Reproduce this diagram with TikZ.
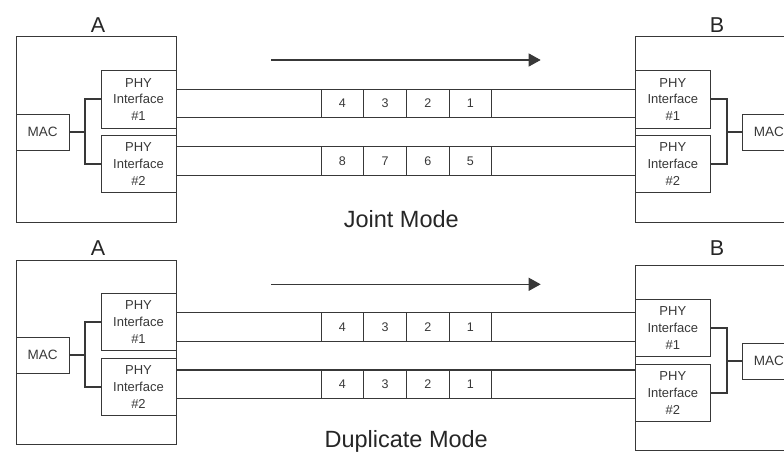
\documentclass[tikz,border=0pt]{standalone}
\usepackage{fontspec}
\setmainfont{Liberation Sans}
\usetikzlibrary{arrows.meta}
\definecolor{lc}{HTML}{383838}
\begin{document}
\begin{tikzpicture}[x=1pt,y=-1pt,
  box/.style={draw=lc, line width=1pt, inner sep=0pt, outer sep=0pt, anchor=north west},
  unit/.style={box, minimum width=160pt, minimum height=185.3pt},
  phy/.style={box, minimum width=75pt, minimum height=57.3pt, align=center, text=lc, font=\fontsize{13}{16.7}\selectfont},
  mac/.style={box, minimum width=53.3pt, minimum height=36pt, text=lc, font=\fontsize{13.5}{16}\selectfont},
  cell/.style={draw=lc, line width=1pt, minimum width=42.7pt, minimum height=28.4pt, inner sep=0pt, outer sep=0pt, text=lc, font=\fontsize{12.5}{14}\selectfont},
  wire/.style={draw=lc, line width=1.1pt},
  bus/.style={draw=lc, line width=1.8pt},
  flow/.style={draw=lc, line width=1.1pt, -{Triangle[length=12pt,width=13pt]}},
  title/.style={anchor=base, text=black!85, font=\fontsize{21.5}{24}\selectfont},
  mode/.style={anchor=base, text=black!85, font=\fontsize{23.5}{26}\selectfont}]
\useasboundingbox (0,0) rectangle (784,453);
\clip (0,0) rectangle (784,453);

% ================= Joint Mode =================
\node[title] (tA) at (98,32.3) {A};
\node[title] (tB) at (717,32.3) {B};
\node[unit] (JA) at (16,36.7) {};
\node[unit] (JB) at (635.3,36.7) {};
\node[phy] (JAP1) at (101,70.7) {PHY\\Interface\\\#1};
\node[phy] (JAP2) at (101,135.3) {PHY\\Interface\\\#2};
\node[mac] (JAM) at (16,114.3) {MAC};
\node[phy] (JBP1) at (635.3,70.7) {PHY\\Interface\\\#1};
\node[phy] (JBP2) at (635.3,135.3) {PHY\\Interface\\\#2};
\node[mac] (JBM) at (742.3,114.3) {MAC};

\coordinate (ja) at (85,132.3);
\coordinate (jb) at (726.7,132.3);
\draw[bus] (JAM.east) -- (ja);
\draw[bus] (JAP1.west) -| (ja) |- (JAP2.west);
\draw[bus] (JBM.west) -- (jb);
\draw[bus] (JBP1.east) -| (jb) |- (JBP2.east);

\coordinate (j1) at (0,89.3);
\coordinate (j2) at (0,117.7);
\coordinate (j3) at (0,146.7);
\coordinate (j4) at (0,175.3);
\draw[wire] (JAP1.east |- j1) -- (JBP1.west |- j1);
\draw[wire] (JAP1.east |- j2) -- (JBP1.west |- j2);
\draw[wire] (JAP2.east |- j3) -- (JBP2.west |- j3);
\draw[wire] (JAP2.east |- j4) -- (JBP2.west |- j4);

\foreach \t [count=\i] in {4,3,2,1}
  \node[cell] (jr\i) at ({299.65+42.7*\i},103.5) {\t};
\foreach \t [count=\i] in {8,7,6,5}
  \node[cell] (js\i) at ({299.65+42.7*\i},161) {\t};

\coordinate (jf0) at (271,60);
\coordinate (jf1) at (540.7,60);
\draw[flow] (jf0) -- (jf1);
\node[mode] (jm) at (401.3,227.3) {Joint Mode};

% ================= Duplicate Mode =================
\node[title] (dA) at (98,255) {A};
\node[title] (dB) at (717,255) {B};
\node[box, minimum width=160pt, minimum height=184.3pt] (DA) at (16,260) {};
\node[box, minimum width=160pt, minimum height=185.4pt] (DB) at (635.3,265.3) {};
\node[phy, minimum height=56.3pt] (DAP1) at (101,293.7) {PHY\\Interface\\\#1};
\node[phy, minimum height=56.3pt] (DAP2) at (101,358.7) {PHY\\Interface\\\#2};
\node[mac] (DAM) at (16,337.3) {MAC};
\node[phy] (DBP1) at (635.3,299.3) {PHY\\Interface\\\#1};
\node[phy] (DBP2) at (635.3,364.3) {PHY\\Interface\\\#2};
\node[mac] (DBM) at (742.3,343.3) {MAC};

\coordinate (da) at (85,355.3);
\coordinate (db) at (726.7,361.3);
\draw[bus] (DAM.east) -- (da);
\draw[bus] (DAP1.west) -| (da) |- (DAP2.west);
\draw[bus] (DBM.west) -- (db);
\draw[bus] (DBP1.east) -| (db) |- (DBP2.east);

\coordinate (d1) at (0,312.7);
\coordinate (d2) at (0,341.2);
\coordinate (d3) at (0,370);
\coordinate (d4) at (0,398.5);
\draw[wire] (DAP1.east |- d1) -- (DBP1.west |- d1);
\draw[wire] (DAP1.east |- d2) -- (DBP1.west |- d2);
\draw[wire] (DAP2.east |- d3) -- (DBP2.west |- d3);
\draw[wire] (DAP2.east |- d4) -- (DBP2.west |- d4);

\foreach \t [count=\i] in {4,3,2,1}
  \node[cell, minimum height=28.5pt] (dr\i) at ({299.65+42.7*\i},326.95) {\t};
\foreach \t [count=\i] in {4,3,2,1}
  \node[cell, minimum height=28.5pt] (ds\i) at ({299.65+42.7*\i},384.25) {\t};

\coordinate (df0) at (271,284.3);
\coordinate (df1) at (540.7,284.3);
\draw[flow] (df0) -- (df1);
\node[mode] (dm) at (406.2,447.7) {Duplicate Mode};
\end{tikzpicture}
\end{document}
